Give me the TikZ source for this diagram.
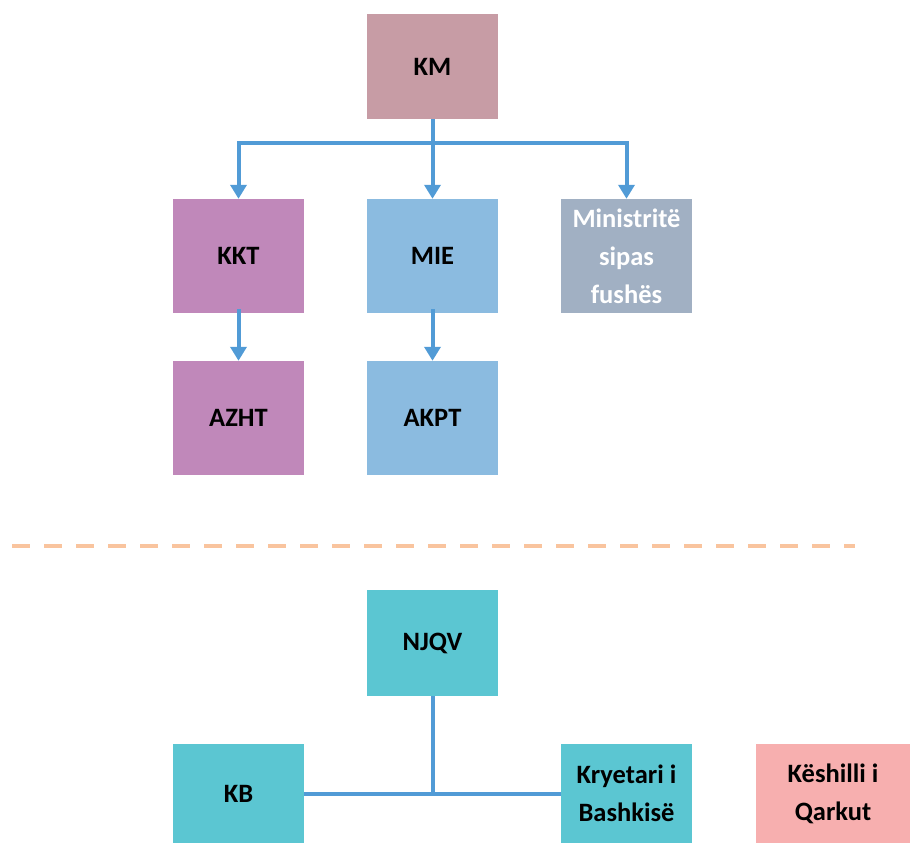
\documentclass[tikz,border=0pt]{standalone}
\usepackage{fontspec}
\setmainfont{Carlito}
\usetikzlibrary{arrows.meta}
\definecolor{kmcol}{HTML}{C79CA5}
\definecolor{kktcol}{HTML}{C088BA}
\definecolor{miecol}{HTML}{8BBBE0}
\definecolor{mincol}{HTML}{A1B0C3}
\definecolor{lokcol}{HTML}{5BC6D2}
\definecolor{qarkcol}{HTML}{F7AFAF}
\definecolor{linkcol}{HTML}{519BD6}
\definecolor{sepcol}{HTML}{F9C49E}
\begin{document}
\begin{tikzpicture}[x=1pt, y=-1pt,
    box/.style={inner sep=0pt, minimum width=131pt, minimum height=114pt, align=center,
      font=\fontsize{26.5}{38}\selectfont\bfseries},
    link/.style={draw=linkcol, line width=4pt},
    arr/.style={link, -{Triangle[width=16pt,length=14pt]}}]
    \useasboundingbox (0,0) rectangle (911,843);
    \node (km)[box, fill=kmcol, minimum height=105pt] at (432.5,66.5) {KM};
    \node (kkt)[box, fill=kktcol] at (238.5,256) {KKT};
    \node (mie)[box, fill=miecol] at (432.5,256) {MIE};
    \node (min)[box, fill=mincol, text=white] at (626.5,256) {Ministritë\\sipas\\fushës};
    \node (azht)[box, fill=kktcol] at (238.5,418) {AZHT};
    \node (akpt)[box, fill=miecol] at (432.5,418) {AKPT};
    \node (njqv)[box, fill=lokcol, minimum height=106pt] at (432.5,643) {NJQV};
    \node (kb)[box, fill=lokcol, minimum height=99pt] at (238.5,793.5) {KB};
    \node (kry)[box, fill=lokcol, minimum height=99pt] at (626.5,793.5) {Kryetari i\\Bashkisë};
    \node (qark)[box, fill=qarkcol, minimum width=154pt, minimum height=99pt] at (833,793.5) {Këshilli i\\Qarkut};
    \coordinate (split) at (432.5,143);
    \coordinate (join) at (432.5,793.5);
    \draw[link] (km.south) -- (split);
    \draw[arr] (split) -| (kkt.north);
    \draw[arr] (split) -- (mie.north);
    \draw[arr] (split) -| (min.north);
    \draw[arr] ([yshift=4pt]kkt.south) -- (azht.north);
    \draw[arr] ([yshift=4pt]mie.south) -- (akpt.north);
    \draw[link] (njqv.south) -- (join);
    \draw[link] (kb.east) -- (kry.west);
    \draw[sepcol, line width=4.5pt, dash pattern=on 18pt off 14pt] (12,546) -- (855,546);
\end{tikzpicture}
\end{document}
